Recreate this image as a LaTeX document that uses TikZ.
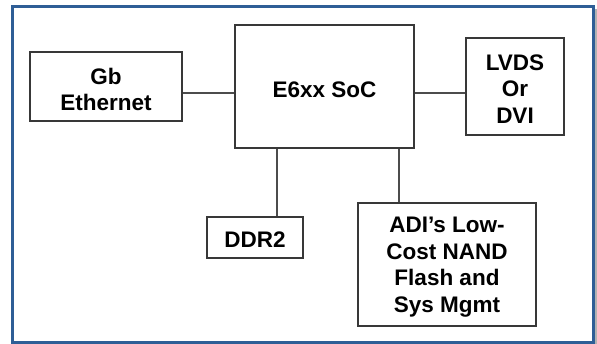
\documentclass[tikz,border=0pt]{standalone}
\usepackage{fontspec}
\setmainfont{Liberation Sans}
\usetikzlibrary{shadows}
\definecolor{framecol}{HTML}{2F5E96}
\definecolor{boxline}{HTML}{383838}

\begin{document}
\begin{tikzpicture}[x=1pt,y=-1pt,
    blk/.style={rectangle,
          draw=boxline,
          line width=1.7pt,
          fill=white,
          drop shadow={shadow xshift=1.2pt, shadow yshift=-1.2pt, opacity=.3}},
    txt/.style={align=center,
          inner sep=0pt,
          font=\fontsize{22.5}{26.5}\selectfont\bfseries},
    link/.style={draw=black!70, line width=1.3pt}]

    \useasboundingbox (0,0) rectangle (597,344);

    % outer frame
    \draw[black!30, line width=1.5pt] (596,9) -- (596,344);
    \draw[framecol, line width=3pt] (12.5,6.5) rectangle (593.5,343);

    \node[blk,
          minimum width = 152pt,
          minimum height = 69pt] (gbe) at (106,86.5) {};
    \node[txt] (gbetxt) at ([yshift=-3pt]gbe.center) {Gb\\Ethernet};

    \node[blk,
          minimum width = 179pt,
          minimum height = 123pt] (soc) at (324.5,86.5) {};
    \node[txt] (soctxt) at ([yshift=-3pt]soc.center) {E6xx SoC};

    \node[blk,
          minimum width = 98pt,
          minimum height = 97pt] (lvds) at (515,86.5) {};
    \node[txt] (lvdstxt) at ([yshift=-2.5pt]lvds.center) {LVDS\\Or\\DVI};

    \node[blk,
          minimum width = 96pt,
          minimum height = 41pt] (ddr) at (255,237.5) {};
    \node[txt] (ddrtxt) at ([yshift=-2pt]ddr.center) {DDR2};

    \node[blk,
          minimum width = 178pt,
          minimum height = 123pt] (adi) at (447,264.5) {};
    \node[txt] (aditxt) at ([yshift=-2.5pt]adi.center) {ADI's Low-\\Cost NAND\\Flash and\\Sys Mgmt};

    \path[link]
     ([yshift=-6.5pt]gbe.east) edge ([yshift=-6.5pt]gbe.east -| soc.west)
     ([yshift=-6.5pt]soc.east) edge ([yshift=-6.5pt]soc.east -| lvds.west)
     ([xshift=22pt]ddr.north) edge ([xshift=22pt]ddr.north |- soc.south)
     ([xshift=-48pt]adi.north) edge ([xshift=-48pt]adi.north |- soc.south);

\end{tikzpicture}
\end{document}
